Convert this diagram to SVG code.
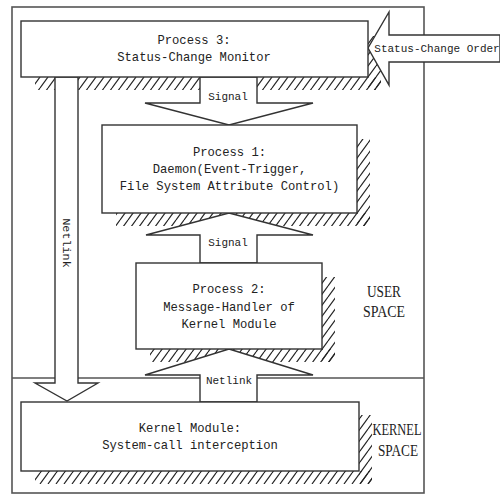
<svg xmlns="http://www.w3.org/2000/svg" width="500" height="495" viewBox="0 0 500 495">
<defs>
<pattern id="hatch" patternUnits="userSpaceOnUse" width="8" height="11">
<line x1="0" y1="11" x2="8" y2="0" stroke="#222" stroke-width="1.2"/>
<line x1="-8" y1="11" x2="0" y2="0" stroke="#222" stroke-width="1.2"/>
<line x1="8" y1="11" x2="16" y2="0" stroke="#222" stroke-width="1.2"/>
</pattern>
</defs>
<style>
.box{fill:#fff;stroke:#333;stroke-width:1.4}
.arrow{fill:#fff;stroke:#333;stroke-width:1.4;stroke-linejoin:miter}
.frame{fill:none;stroke:#555;stroke-width:1.6}
.hatch{fill:url(#hatch);stroke:none}
.t{font-family:"Liberation Mono","DejaVu Sans Mono",monospace;font-size:12.2px;fill:#222;text-anchor:middle}
.s{font-family:"Liberation Mono","DejaVu Sans Mono",monospace;font-size:11px;fill:#222;text-anchor:middle}
.sp{font-family:"Liberation Serif","Times New Roman",serif;font-size:17px;fill:#222;text-anchor:middle}
</style>
<rect width="500" height="495" fill="#fff"/>
<g id="frame">
<rect class="frame" x="12" y="7" width="412" height="486"/>
<line class="frame" x1="12" y1="378" x2="424" y2="378"/>
</g>
<g id="shadows">
<rect class="hatch" x="35" y="77" width="346" height="13"/>
<rect class="hatch" x="368" y="36" width="13" height="54"/>
<rect class="hatch" x="116" y="213" width="254" height="13"/>
<rect class="hatch" x="357" y="139" width="13" height="87"/>
<rect class="hatch" x="150" y="349" width="185" height="13"/>
<rect class="hatch" x="322" y="277" width="13" height="85"/>
<rect class="hatch" x="35" y="471" width="337" height="13"/>
<rect class="hatch" x="359" y="415" width="13" height="69"/>
</g>
<g id="connectors">
<polygon class="arrow" points="500,35 389,35 389,12 368,48 389,85 389,62 500,62"/>
<polygon class="arrow" points="200,77 257,77 257,103 313,103 229,125 145,103 200,103"/>
<polygon class="arrow" points="229,213 313,235 257,235 257,263 200,263 200,235 146,235"/>
<polygon class="arrow" points="229,349 313,375 257,375 257,402 200,402 200,375 145,375"/>
<polygon class="arrow" points="55,77 78,77 78,383 98,383 67,401 35,383 55,383"/>
<text class="s" x="437" y="52">Status-Change Order</text>
<text class="s" x="228" y="100">Signal</text>
<text class="s" x="228" y="246">Signal</text>
<text class="s" x="229" y="384">Netlink</text>
<text class="s" transform="translate(63,243) rotate(90)" x="0" y="0" style="font-size:11.8px">Netlink</text>
</g>
<g id="process3">
<rect class="box" x="21" y="21" width="347" height="56"/>
<text class="t" x="194" y="44">Process 3:</text>
<text class="t" x="194" y="61">Status-Change Monitor</text>
</g>
<g id="process1">
<rect class="box" x="102" y="125" width="255" height="88"/>
<text class="t" x="229.5" y="156">Process 1:</text>
<text class="t" x="229.5" y="173">Daemon(Event-Trigger,</text>
<text class="t" x="229.5" y="190">File System Attribute Control)</text>
</g>
<g id="process2">
<rect class="box" x="136" y="263" width="186" height="86"/>
<text class="t" x="229" y="293">Process 2:</text>
<text class="t" x="229" y="311">Message-Handler of</text>
<text class="t" x="229" y="328">Kernel Module</text>
</g>
<g id="kernel">
<rect class="box" x="21" y="402" width="338" height="69"/>
<text class="t" x="190" y="432">Kernel Module:</text>
<text class="t" x="190" y="449">System-call interception</text>
</g>
<g id="labels">
<text class="sp" x="384" y="297" textLength="34" lengthAdjust="spacingAndGlyphs">USER</text>
<text class="sp" x="384" y="317" textLength="42" lengthAdjust="spacingAndGlyphs">SPACE</text>
<text class="sp" x="397" y="435" textLength="49" lengthAdjust="spacingAndGlyphs">KERNEL</text>
<text class="sp" x="398" y="456" textLength="40" lengthAdjust="spacingAndGlyphs">SPACE</text>
</g>
</svg>
